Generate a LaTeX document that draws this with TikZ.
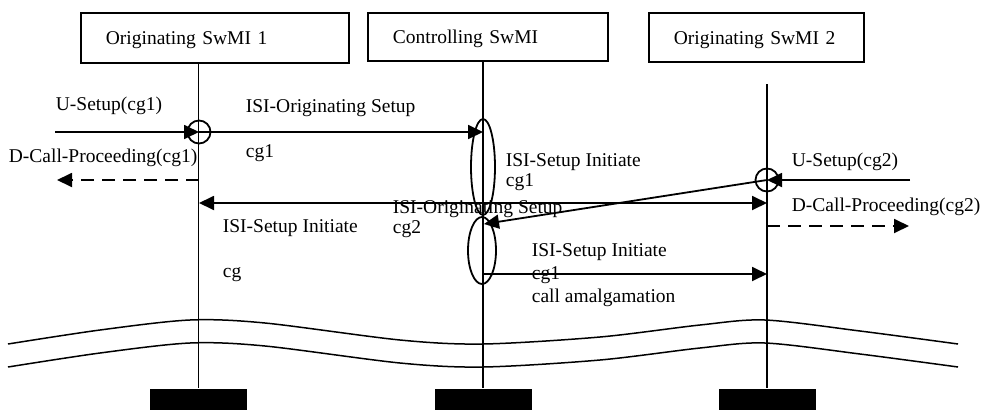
\documentclass[tikz,border=0pt]{standalone}
\usepackage{fontspec}
\setmainfont{Liberation Serif}
\usetikzlibrary{arrows.meta,positioning,shapes.geometric}
\definecolor{ink}{HTML}{000000}

\begin{document}
\begin{tikzpicture}[x=1pt,y=-1pt,line width=1.8pt,color=ink,
    lbl/.style={anchor=base west,inner sep=0pt,font=\fontsize{19.5}{22}\selectfont},
    swmi/.style={draw,anchor=north west,inner xsep=25pt,align=left,
                 text height=14pt,text depth=0pt,font=\fontsize{19.5}{22}\selectfont},
    blk/.style={fill=ink,minimum width=97pt,minimum height=21pt,inner sep=0pt},
    junc/.style={circle,draw,minimum size=23pt,inner sep=0pt},
    oval/.style={ellipse,draw,inner sep=0pt},
    msg/.style={-{Triangle[length=15pt,width=14pt]}},
    msgdash/.style={msg,dash pattern=on 13pt off 8pt}]
  \useasboundingbox (0,0) rectangle (981,410);
  \node[swmi,text width=218pt,minimum height=50pt] (sw1) at (80,12) {Originating SwMI 1};
  \node[swmi,text width=190pt,minimum height=48pt] (swc) at (367,12) {Controlling SwMI};
  \node[swmi,text width=165pt,minimum height=49pt] (sw2) at (648,12) {Originating SwMI 2};
  \node[blk] (b1) at (198.5,399.5) {};
  \node[blk] (bc) at (483,399.5) {};
  \node[blk] (b2) at (767.5,399.5) {};
  \coordinate (top2) at (767,84);
  \draw (b1.north |- sw1.south) -- (b1.north);
  \draw (bc.north |- swc.south) -- (bc.north);
  \draw (top2) -- (top2 |- b2.north);
  \foreach \dy in {0,23}{
    \draw[line width=1.5pt,shift={(0,\dy)}] plot[smooth,tension=0.5] coordinates
      {(8,344) (100,330) (190,320) (265,323) (400,340) (483,344) (600,337)
       (700,325) (765,320) (860,331) (958,344)};}
  \node[junc] (o1) at (199,132) {};
  \node[junc] (o2) at (767,180) {};
  \node[oval,minimum width=24pt,minimum height=96pt] (e1) at (483,167) {};
  \node[oval,minimum width=28pt,minimum height=67pt] (e2) at (482,250.5) {};
  \coordinate (in1) at (55,132);
  \coordinate (out1) at (57,180);
  \coordinate (in2) at (910,180);
  \coordinate (out2) at (909,226);
  \coordinate (m1) at (199,203);
  \coordinate (m2) at (767,203);
  \coordinate (e2in) at (484,224);
  \coordinate (s1) at (483,274);
  \draw[msg] (in1) -- (o1.center);
  \draw[msg] (o1.center) -- (o1.center -| e1.center);
  \draw[msgdash] (out1 -| o1) -- (out1);
  \draw[{Triangle[length=15pt,width=14pt]}-{Triangle[length=15pt,width=14pt]}] (m1) -- (m2);
  \draw[msg] (in2) -- (o2.center);
  \draw[msgdash] (out2 -| o2) -- (out2);
  \draw[msg] (o2.center) -- (e2in);
  \draw[msg] (s1) -- (s1 -| o2);
  \node[lbl] (tu1) at (55,110) {U-Setup(cg1)};
  \node[lbl] (tio1) at (245,112) {ISI-Originating Setup};
  \node[lbl] (tcg1) at (245,157) {cg1};
  \node[lbl] (td1) at (8,162) {D-Call-Proceeding(cg1)};
  \node[lbl] (tsi1) at (505,166) {ISI-Setup Initiate};
  \node[lbl] (tsc1) at (505,186) {cg1};
  \node[lbl] (tu2) at (791,166) {U-Setup(cg2)};
  \node[lbl] (td2) at (791,211) {D-Call-Proceeding(cg2)};
  \node[lbl] (tio2) at (392,213) {ISI-Originating Setup};
  \node[lbl] (tcg2) at (392,233) {cg2};
  \node[lbl] (tsi2) at (222,232) {ISI-Setup Initiate};
  \node[lbl] (tcg) at (222,277) {cg};
  \node[lbl] (tsi3) at (531,256) {ISI-Setup Initiate};
  \node[lbl] (tsc3) at (531,279) {cg1};
  \node[lbl] (tam) at (531,302) {call amalgamation};
\end{tikzpicture}
\end{document}
